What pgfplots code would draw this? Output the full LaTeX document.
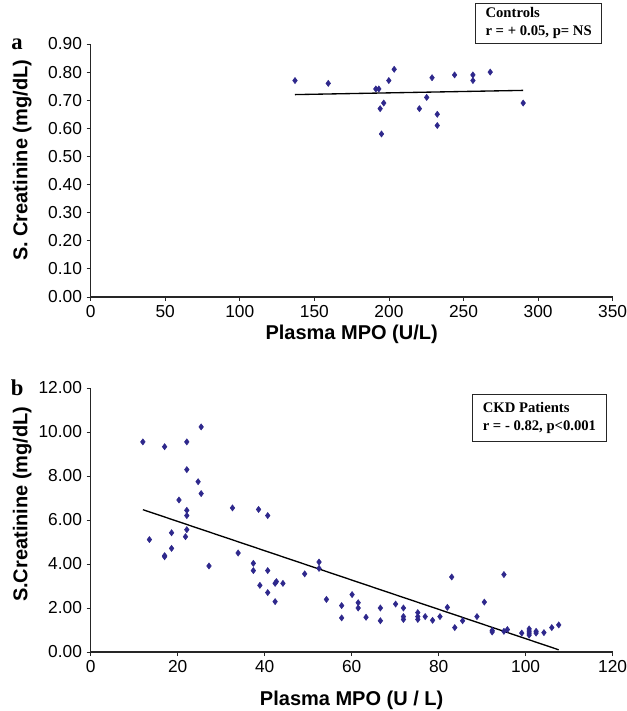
\documentclass[border=0pt]{standalone}
\usepackage{fontspec}
\setmainfont{Liberation Sans}
\newfontfamily\tnr{Liberation Serif}
\usepackage{pgfplots}
\pgfplotsset{compat=1.18}
\definecolor{mk}{RGB}{46,40,140}

\pgfplotsset{
    panel/.style={
        scale only axis,
        width=391.5pt,
        axis lines*=left,
        axis line style={-, line width=0.8pt, black!85},
        tick align=outside,
        major tick length=3pt,
        tick style={black!85, line width=0.6pt},
        minor tick num=0,
        ticklabel style={font=\fontsize{13}{13}\selectfont},
        /pgf/number format/assume math mode=true,
        label style={font=\bfseries\fontsize{15}{15}\selectfont},
        yticklabel style={/pgf/number format/.cd, fixed, fixed zerofill, precision=2},
        xticklabel style={/pgf/number format/.cd, fixed},
        clip=false,
    },
    dots/.style={only marks, mark=diamond*, mark size=2.3pt, color=mk},
    regline/.style={black, line width=1pt, no marks},
}
\tikzset{
    note/.style={draw=black!85, line width=0.75pt, fill=white, align=left,
        inner xsep=7.5pt, font=\tnr\bfseries\fontsize{11}{13.5}\selectfont},
}

\begin{document}
\begin{tikzpicture}
\path[use as bounding box] (0,0) rectangle (470.25pt,533.25pt);

% panel a: controls
\begin{axis}[
    panel,
    at={(68pt,310.5pt)}, anchor=south west,
    height=189.75pt,
    xmin=0, xmax=350, ymin=0, ymax=0.9,
    xtick={0,50,...,350},
    ytick={0,0.1,...,0.9},
    xlabel={Plasma MPO (U/L)},
    ylabel={S. Creatinine (mg/dL)},
    xlabel style={at={(axis description cs:0.5,-0.146)}, anchor=center},
    ylabel style={at={(axis description cs:-0.131,0.54)}, anchor=center},
]
\addplot[dots] coordinates {
    (137,0.77) (159.3,0.76) (191.2,0.74) (193.2,0.74) (199.9,0.77)
    (203.5,0.81) (196.5,0.69) (194.1,0.67) (195,0.58) (220.4,0.67)
    (225.3,0.71) (228.9,0.78) (232.4,0.65) (232.4,0.61) (244,0.79)
    (256.3,0.79) (256.3,0.77) (267.9,0.80) (290,0.69)
};
\addplot[regline] coordinates {(137,0.72) (290,0.735)};
\node[note, anchor=south east, minimum height=28.5pt] at (axis cs:343,0.9)
    {Controls\\r = + 0.05, p= NS};
\node[font=\tnr\bfseries\fontsize{17}{17}\selectfont] at (axis description cs:-0.141,1) {a};
\end{axis}

% panel b: CKD patients
\begin{axis}[
    panel,
    at={(68pt,44.25pt)}, anchor=south west,
    height=198pt,
    xmin=0, xmax=120, ymin=0, ymax=12,
    xtick={0,20,...,120},
    ytick={0,2,...,12},
    xlabel={Plasma MPO (U / L)},
    ylabel={S.Creatinine (mg/dL)},
    xlabel style={at={(axis description cs:0.5,-0.182)}, anchor=center},
    ylabel style={at={(axis description cs:-0.131,0.56)}, anchor=center},
]
\addplot[dots] coordinates {
    (12.0,9.55) (17.0,9.33) (22.1,9.55) (25.4,10.23) (22.1,8.29)
    (24.7,7.74) (25.4,7.20) (20.3,6.91) (22.1,6.44) (22.1,6.20)
    (22.1,5.56) (21.8,5.24) (18.6,5.42) (13.5,5.11) (18.6,4.71)
    (17.0,4.38) (17.0,4.33) (27.2,3.91) (32.6,6.55) (33.9,4.50)
    (38.6,6.48) (40.7,6.20) (37.4,4.03) (37.4,3.70) (40.7,3.70)
    (38.9,3.03) (40.7,2.70) (42.4,3.12) (42.7,3.20) (44.2,3.12)
    (42.4,2.29) (49.2,3.55) (52.5,4.09) (52.5,3.80) (54.2,2.39)
    (57.7,2.11) (57.7,1.55) (60.1,2.61) (61.5,2.24) (61.5,2.00)
    (63.3,1.58) (66.6,2.00) (66.6,1.42) (70.1,2.18) (71.9,2.00)
    (71.9,1.61) (71.9,1.48) (75.2,1.79) (75.2,1.61) (75.2,1.48)
    (76.9,1.61) (78.6,1.44) (80.3,1.61) (82.0,2.03) (83.0,3.41)
    (83.7,1.11) (85.5,1.42) (88.8,1.61) (90.5,2.27) (92.3,0.91)
    (92.3,0.98) (95.0,3.52) (95.0,0.94) (95.8,1.02) (99.1,0.86)
    (100.8,1.05) (100.8,0.95) (100.8,0.86) (100.8,0.77) (102.4,0.94)
    (102.4,0.86) (104.2,0.88) (106.0,1.11) (107.6,1.23)
};
\addplot[regline] coordinates {(12.0,6.47) (107.6,0.1)};
\node[note, anchor=north east, minimum height=35pt] at (axis cs:118.6,11.73)
    {CKD Patients\\r = - 0.82, p<0.001};
\node[font=\tnr\bfseries\fontsize{17}{17}\selectfont] at (axis description cs:-0.141,1) {b};
\end{axis}
\end{tikzpicture}
\end{document}
